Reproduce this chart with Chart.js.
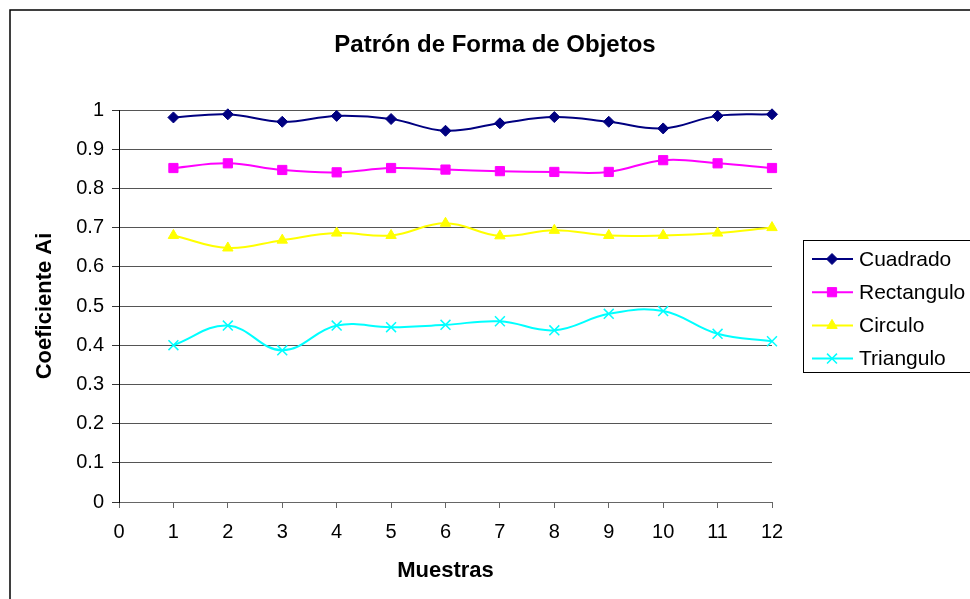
<!DOCTYPE html>
<html>
<head>
<meta charset="utf-8">
<script src="https://cdn.jsdelivr.net/npm/chart.js@4.4.1/dist/chart.umd.min.js"></script>
<style>
  html, body { margin: 0; padding: 0; background: #fff; overflow: hidden; }
  canvas { display: block; }
</style>
</head>
<body>
<canvas id="chart" width="970" height="599"></canvas>
<script>
// Samples on the horizontal axis
const samples = [1, 2, 3, 4, 5, 6, 7, 8, 9, 10, 11, 12];

// Shape coefficient per sample, one array per object shape
const cuadrado   = [0.981, 0.989, 0.970, 0.985, 0.977, 0.947, 0.966, 0.982, 0.970, 0.953, 0.985, 0.989];
const rectangulo = [0.852, 0.864, 0.847, 0.841, 0.852, 0.848, 0.844, 0.842, 0.842, 0.872, 0.864, 0.852];
const circulo    = [0.680, 0.648, 0.668, 0.686, 0.680, 0.711, 0.679, 0.693, 0.680, 0.680, 0.686, 0.700];
const triangulo  = [0.400, 0.450, 0.387, 0.450, 0.446, 0.452, 0.461, 0.438, 0.480, 0.487, 0.429, 0.410];

const seriesNames = ['Cuadrado', 'Rectangulo', 'Circulo', 'Triangulo'];

// Axis tick labels
const xTickLabels = ['0', '1', '2', '3', '4', '5', '6', '7', '8', '9', '10', '11', '12'];
const yTickLabels = ['0', '0.1', '0.2', '0.3', '0.4', '0.5', '0.6', '0.7', '0.8', '0.9', '1'];

const chartTitle = 'Patrón de Forma de Objetos';
const xAxisTitle = 'Muestras';
const yAxisTitle = 'Coeficiente Ai';

const FONT = '"Liberation Sans", Arial, Helvetica, sans-serif';

const styles = [
  { color: '#000080', pointStyle: 'rectRot',  radius: 5.5, borderWidth: 1 },
  { color: '#FF00FF', pointStyle: 'rect',     radius: 6.5, borderWidth: 1 },
  { color: '#FFFF00', pointStyle: 'triangle', radius: 6,   borderWidth: 1 },
  { color: '#00FFFF', pointStyle: 'crossRot', radius: 7,   borderWidth: 1.5 }
];

const seriesValues = [cuadrado, rectangulo, circulo, triangulo];

const datasets = seriesValues.map((values, i) => ({
  label: seriesNames[i],
  data: samples.map((s, j) => ({ x: s, y: values[j] })),
  borderColor: styles[i].color,
  backgroundColor: styles[i].color,
  borderWidth: 2,
  tension: 0.4,
  pointStyle: styles[i].pointStyle,
  pointRadius: styles[i].radius,
  pointBorderWidth: styles[i].borderWidth,
  pointBackgroundColor: styles[i].color,
  pointBorderColor: styles[i].color,
  clip: false
}));

// Outer frame, chart title and the boxed legend on the right
const decorPlugin = {
  id: 'decor',
  beforeDraw(chart) {
    const ctx = chart.ctx;
    ctx.save();
    ctx.fillStyle = '#ffffff';
    ctx.fillRect(0, 0, chart.width, chart.height);
    ctx.strokeStyle = '#000000';
    ctx.lineWidth = 1.5;
    ctx.beginPath();
    ctx.moveTo(10, chart.height + 2);
    ctx.lineTo(10, 10);
    ctx.lineTo(chart.width + 2, 10);
    ctx.stroke();
    ctx.restore();
  },
  afterDraw(chart) {
    const ctx = chart.ctx;
    ctx.save();
    // title
    ctx.fillStyle = '#000';
    ctx.font = 'bold 24px ' + FONT;
    ctx.textAlign = 'center';
    ctx.textBaseline = 'middle';
    ctx.fillText(chartTitle, 495, 45);

    // legend box
    ctx.strokeStyle = '#000';
    ctx.lineWidth = 1;
    ctx.strokeRect(803.5, 240.5, 200, 132);

    ctx.font = '21px ' + FONT;
    ctx.textAlign = 'left';
    chart.data.datasets.forEach((ds, i) => {
      const y = 259 + i * 33.2;
      ctx.strokeStyle = ds.borderColor;
      ctx.lineWidth = 2;
      ctx.beginPath();
      ctx.moveTo(812, y);
      ctx.lineTo(853, y);
      ctx.stroke();
      ctx.fillStyle = ds.pointBackgroundColor;
      ctx.strokeStyle = ds.pointBorderColor;
      ctx.lineWidth = ds.pointBorderWidth;
      Chart.helpers.drawPoint(ctx, {
        pointStyle: ds.pointStyle,
        radius: ds.pointRadius,
        borderWidth: ds.pointBorderWidth,
        rotation: 0
      }, 832, y);
      ctx.fillStyle = '#000';
      ctx.fillText(ds.label, 859, y + 1);
    });
    ctx.restore();
  }
};

new Chart(document.getElementById('chart'), {
  type: 'line',
  data: { datasets },
  plugins: [decorPlugin],
  options: {
    responsive: false,
    animation: false,
    devicePixelRatio: 1,
    layout: { padding: { top: 110, right: 198, bottom: 0, left: 0 } },
    plugins: {
      legend: { display: false },
      title: { display: false },
      tooltip: { enabled: false }
    },
    scales: {
      x: {
        type: 'linear',
        min: 0,
        max: 12,
        afterFit(scale) { scale.height = 97; },
        afterBuildTicks(scale) {
          scale.ticks = xTickLabels.map((_, i) => ({ value: i }));
        },
        ticks: {
          autoSkip: false,
          maxRotation: 0,
          padding: 12,
          color: '#000',
          font: { family: FONT, size: 20 },
          callback: (v, i) => xTickLabels[i]
        },
        grid: {
          drawOnChartArea: false,
          drawTicks: true,
          tickLength: 6,
          tickColor: '#666',
          tickWidth: 1
        },
        border: { display: true, color: '#666', width: 1 },
        title: {
          display: true,
          text: xAxisTitle,
          color: '#000',
          font: { family: FONT, size: 22, weight: 'bold' },
          padding: { top: 0, bottom: 15 }
        }
      },
      y: {
        type: 'linear',
        min: 0,
        max: 1,
        afterFit(scale) { scale.width = 119; },
        afterBuildTicks(scale) {
          scale.ticks = yTickLabels.map((_, i) => ({ value: i / 10 }));
        },
        ticks: {
          autoSkip: false,
          padding: 8,
          color: '#000',
          font: { family: FONT, size: 20 },
          callback: (v, i) => yTickLabels[i]
        },
        grid: {
          color: '#555',
          lineWidth: 1,
          drawTicks: true,
          tickLength: 7,
          tickColor: '#333'
        },
        border: { display: true, color: '#000', width: 1 },
        title: {
          display: true,
          text: yAxisTitle,
          color: '#000',
          font: { family: FONT, size: 22, weight: 'bold' },
          padding: { top: 32, bottom: 0 }
        }
      }
    }
  }
});
</script>
</body>
</html>
